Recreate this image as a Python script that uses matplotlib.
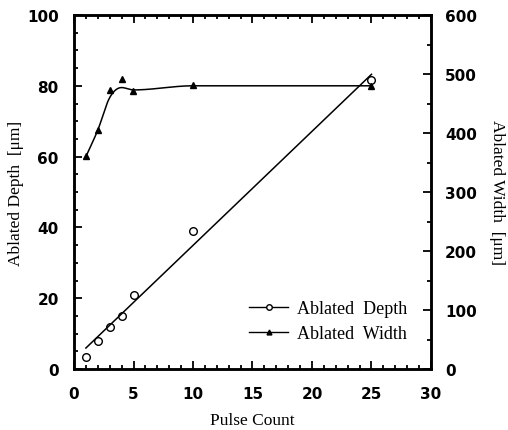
import numpy as np
import matplotlib.pyplot as plt
from matplotlib.ticker import MultipleLocator

# Datos
pulses = [1, 2, 3, 4, 5, 10, 25]
depth = [3.5, 8, 12, 15, 21, 39, 81.5]          # um (eje izquierdo)
width = [361, 405, 473, 491, 471, 481, 480]      # um (eje derecho)
# puntos de control de la curva suave dibujada para el ancho
width_fit = [360, 405, 460, 477, 473, 480, 480]

tick_font = dict(family='DejaVu Sans', weight='bold', size=11)
label_font = dict(family='Liberation Serif', size=12.5)


def hermite(xk, yk, n=400):
    xk = np.asarray(xk, float)
    yk = np.asarray(yk, float)
    m = np.gradient(yk, xk)
    m[3:] = 0.0  # plano despues del maximo
    xs = np.linspace(xk[0], xk[-1], n)
    ys = np.empty_like(xs)
    for i, x in enumerate(xs):
        j = min(np.searchsorted(xk, x, side='right') - 1, len(xk) - 2)
        h = xk[j + 1] - xk[j]
        t = (x - xk[j]) / h
        ys[i] = ((2*t**3 - 3*t**2 + 1) * yk[j] + (t**3 - 2*t**2 + t) * h * m[j]
                 + (-2*t**3 + 3*t**2) * yk[j + 1] + (t**3 - t**2) * h * m[j + 1])
    return xs, ys


fig = plt.figure(figsize=(5.08, 4.31), dpi=100)
ax = fig.add_axes([74/508, 1 - 370/431, 357/508, 354/431])
ax2 = ax.twinx()

# Profundidad: puntos + ajuste lineal
ax.plot(pulses, depth, 'o', mfc='white', mec='black', ms=5.5, mew=1.0)
p = np.polyfit(pulses, depth, 1)
xl = np.array([pulses[0], pulses[-1]])
ax.plot(xl, np.polyval(p, xl), color='black', lw=1.1)

# Ancho: puntos + curva suave
ax2.plot(pulses, width, '^', color='black', ms=5)
xs, ys = hermite(pulses, width_fit)
ax2.plot(xs, ys, color='black', lw=1.1)

ax.set_xlim(0, 30)
ax.set_ylim(0, 100)
ax2.set_ylim(0, 600)

ax.xaxis.set_major_locator(MultipleLocator(5))
ax.xaxis.set_minor_locator(MultipleLocator(1))
ax.yaxis.set_major_locator(MultipleLocator(20))
ax.yaxis.set_minor_locator(MultipleLocator(5))
ax2.yaxis.set_major_locator(MultipleLocator(100))
ax2.yaxis.set_minor_locator(MultipleLocator(50))

ax.tick_params(which='both', direction='in', top=True, right=False, width=1.3)
ax.tick_params(which='major', length=6)
ax.tick_params(axis='x', which='major', pad=12)
ax.tick_params(axis='y', which='major', pad=11)
ax.tick_params(which='minor', length=3)
ax2.tick_params(which='both', direction='in', width=1.3)
ax2.tick_params(which='major', length=6, pad=10)
ax2.tick_params(which='minor', length=3)

for a in (ax, ax2):
    for s in a.spines.values():
        s.set_linewidth(1.8)
    for lab in a.get_xticklabels() + a.get_yticklabels():
        lab.set_fontproperties(tick_font)

ax.set_xlabel('Pulse Count', fontdict=label_font, labelpad=8)
ax.set_ylabel('Ablated Depth  [\u03bcm]', fontdict=label_font)
ax.yaxis.set_label_coords(-0.14, 0.5)
ax2.set_ylabel('Ablated Width  [\u03bcm]', fontdict=label_font, rotation=-90)
ax2.yaxis.set_label_coords(1.207, 0.5)

# Leyenda
h1, = ax.plot([], [], '-o', color='black', mfc='white', ms=4, lw=1)
h2, = ax.plot([], [], '-^', color='black', ms=3.5, lw=1)
leg = ax.legend([h1, h2], ['Ablated  Depth', 'Ablated  Width'], loc='lower right',
                bbox_to_anchor=(0.955, 0.055), frameon=False, handlelength=2.2,
                handletextpad=0.5, labelspacing=0.45, borderaxespad=0,
                prop={'family': 'Liberation Serif', 'size': 13})

fig.savefig('out.png', dpi=100)
